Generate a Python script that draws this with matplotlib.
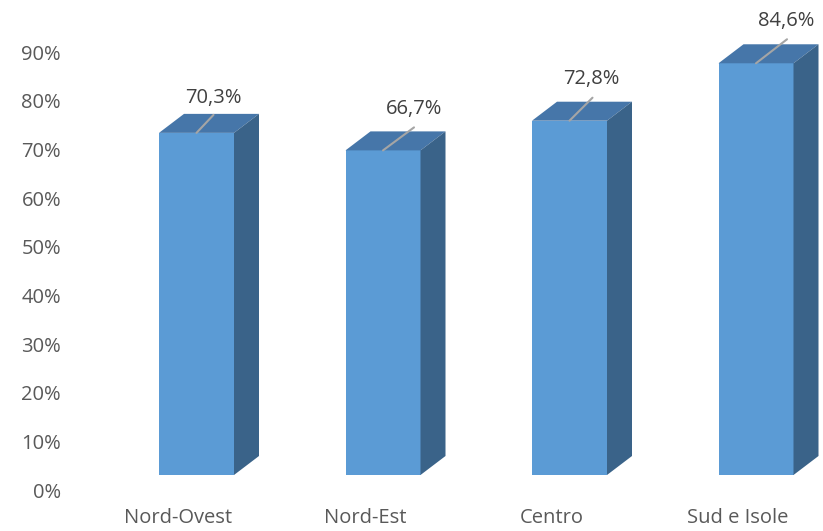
import matplotlib.pyplot as plt
from matplotlib.patches import Polygon
import numpy as np

categories = ['Nord-Ovest', 'Nord-Est', 'Centro', 'Sud e Isole']
values = [70.3, 66.7, 72.8, 84.6]
ytick_vals = [0, 10, 20, 30, 40, 50, 60, 70, 80, 90]

# style / layout (pixels at dpi 100)
front_c = '#5B9BD5'
top_c = '#4676A9'
side_c = '#3A6389'
text_c = '#595959'
px_x = 186.5          # pixels per category step
px_y = 438 / 90       # pixels per percent
bar_w = 75 / px_x
depth_x = 25 / px_x
depth_y = 19 / px_y
base = 15 / px_y      # bars float a bit above the 0 line
leader_off = [(17, 18), (31, 23), (23, 23), (31, 24)]
label_off = [(17, 35), (31, 41), (22, 42), (30, 42)]
fsize = 14.5

plt.rcParams['font.family'] = ['Open Sans', 'DejaVu Sans']

fig = plt.figure(figsize=(8.23, 5.31), dpi=100)
ax = fig.add_axes([100 / 823, 41 / 531, 723 / 823, 490 / 531])

x = np.arange(len(categories))
x0 = -96.5 / px_x
ax.set_xlim(x0, x0 + 723 / px_x)
ax.set_ylim(0, 490 / px_y)

ax.bar(x, values, bottom=base, width=bar_w, color=front_c, zorder=3)

for i, v in enumerate(values):
    l, r = i - bar_w / 2, i + bar_w / 2
    t = v + base
    ax.add_patch(Polygon([(l, t), (r, t), (r + depth_x, t + depth_y), (l + depth_x, t + depth_y)],
                         closed=True, facecolor=top_c, edgecolor='none', zorder=3))
    ax.add_patch(Polygon([(r, base), (r + depth_x, base + depth_y), (r + depth_x, t + depth_y), (r, t)],
                         closed=True, facecolor=side_c, edgecolor='none', zorder=3))
    ldx, ldy = leader_off[i]
    ax.annotate('', xy=(i, t), xytext=(ldx, ldy), textcoords='offset pixels',
                arrowprops=dict(arrowstyle='-', color='#A5A5A5', lw=1.5, shrinkA=0, shrinkB=0),
                zorder=4)
    tdx, tdy = label_off[i]
    ax.annotate(f'{v:.1f}%'.replace('.', ','), xy=(i, t), xytext=(tdx, tdy),
                textcoords='offset pixels', ha='center', va='center',
                fontsize=fsize, color='#404040', zorder=5)

ax.set_yticks(ytick_vals)
ax.set_yticklabels([f'{t}%' for t in ytick_vals])
ax.tick_params(axis='y', length=0, pad=28, labelsize=fsize, labelcolor=text_c)

ax.set_xticks(x - 18 / px_x)
ax.set_xticklabels(categories)
ax.tick_params(axis='x', length=0, pad=13, labelsize=fsize, labelcolor=text_c)

for s in ax.spines.values():
    s.set_visible(False)

fig.savefig('out.png', dpi=100)
